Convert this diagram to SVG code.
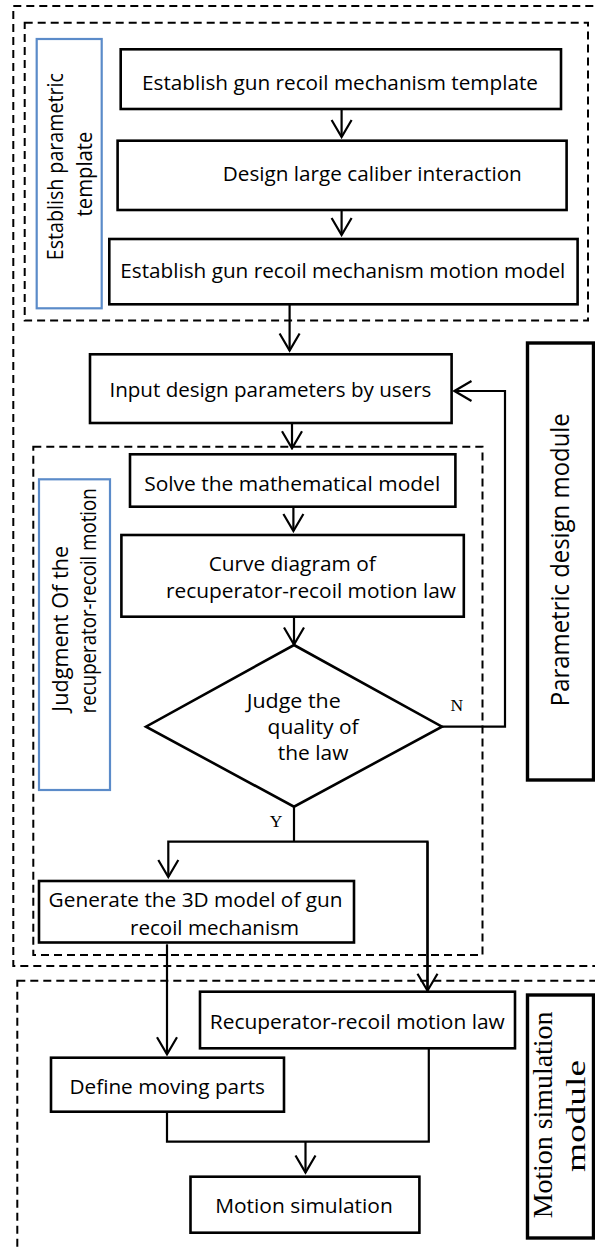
<svg xmlns="http://www.w3.org/2000/svg" width="595" height="1247" viewBox="0 0 595 1247">
  <defs>
    <style>
      .box { fill: #ffffff; stroke: #000000; stroke-width: 2.6; }
      .module { fill: #ffffff; stroke: #000000; stroke-width: 3.4; }
      .zone { fill: none; stroke: #000000; stroke-width: 2; stroke-dasharray: 8 5; }
      .tag { fill: #ffffff; stroke: #5b8bc9; stroke-width: 2.2; }
      .wire { fill: none; stroke: #000000; stroke-width: 2.2; }
      .lbl { font-family: "Open Sans", "Liberation Sans", sans-serif; font-size: 20.5px; fill: #000000; text-anchor: middle; }
      .vlbl { font-family: "Open Sans", "Liberation Sans", sans-serif; font-size: 22px; fill: #000000; text-anchor: middle; }
      .big { font-size: 25px; }
      .serif { font-family: "Liberation Serif", "Times New Roman", serif; fill: #000000; text-anchor: middle; }
      .yn { font-size: 17.5px; }
      .mod { font-size: 27.5px; }
    </style>
    <marker id="arrow" viewBox="-19 -12 21 24" markerWidth="21" markerHeight="24" refX="0" refY="0" markerUnits="userSpaceOnUse" orient="auto">
      <path d="M-17,-10 L0,0 L-17,10" fill="none" stroke="#000000" stroke-width="2.2"/>
    </marker>
  </defs>

  <rect width="595" height="1247" fill="#ffffff"/>

  <!-- dashed regions -->
  <g id="zones">
    <rect class="zone" x="13.3" y="6" width="600" height="960"/>
    <rect class="zone" x="24.7" y="22.7" width="563.3" height="297.8"/>
    <rect class="zone" x="33.3" y="446.7" width="449.2" height="508.3"/>
    <rect class="zone" x="17.3" y="980.7" width="600" height="300"/>
  </g>

  <!-- region tags -->
  <g id="tag-template">
    <rect class="tag" x="36.7" y="39" width="65" height="269.3"/>
    <text class="vlbl" transform="translate(62.7,166.7) rotate(-90)" textLength="187" lengthAdjust="spacingAndGlyphs">Establish parametric</text>
    <text class="vlbl" transform="translate(91.7,174) rotate(-90)" textLength="85" lengthAdjust="spacingAndGlyphs">template</text>
  </g>
  <g id="tag-judgment">
    <rect class="tag" x="39" y="479.3" width="71" height="310.7"/>
    <text class="vlbl" transform="translate(68.3,628.8) rotate(-90)" textLength="165.7" lengthAdjust="spacingAndGlyphs">Judgment Of the</text>
    <text class="vlbl" transform="translate(95.7,600.8) rotate(-90)" textLength="225" lengthAdjust="spacingAndGlyphs">recuperator-recoil motion</text>
  </g>
  <g id="module-parametric">
    <rect class="module" x="527.5" y="343" width="66" height="437"/>
    <text class="vlbl big" transform="translate(568.8,559.7) rotate(-90)" textLength="293" lengthAdjust="spacingAndGlyphs">Parametric design module</text>
  </g>
  <g id="module-motion">
    <rect class="module" x="527.5" y="995" width="66" height="243"/>
    <text class="serif mod" transform="translate(552.3,1115) rotate(-90)" textLength="206.7" lengthAdjust="spacingAndGlyphs">Motion simulation</text>
    <text class="serif mod" transform="translate(585,1116) rotate(-90)" textLength="112" lengthAdjust="spacingAndGlyphs">module</text>
  </g>

  <!-- connectors -->
  <g id="connectors">
    <path class="wire" d="M341.6,109 V137" marker-end="url(#arrow)"/>
    <path class="wire" d="M341.6,210 V235" marker-end="url(#arrow)"/>
    <path class="wire" d="M289.6,304.3 V350.5" marker-end="url(#arrow)"/>
    <path class="wire" d="M292,423 V448.3" marker-end="url(#arrow)"/>
    <path class="wire" d="M293.4,506.7 V531" marker-end="url(#arrow)"/>
    <path class="wire" d="M294,616.7 V644.5" marker-end="url(#arrow)"/>
    <path class="wire" d="M442,726.7 H505 V391 H454.5" marker-end="url(#arrow)"/>
    <path class="wire" d="M294,806.7 V841.7"/>
    <path class="wire" d="M427.5,990.7 V841.7 H168.3 V877" marker-end="url(#arrow)"/>
    <path class="wire" d="M427.5,841.7 V990.7" marker-end="url(#arrow)"/>
    <path class="wire" d="M167,944.3 V1054.3" marker-end="url(#arrow)"/>
    <path class="wire" d="M167,1111.7 V1141.7 H428.8 V1048.3"/>
    <path class="wire" d="M305.5,1141.7 V1172.5" marker-end="url(#arrow)"/>
    <text class="serif yn" x="456.7" y="711">N</text>
    <text class="serif yn" x="276" y="827">Y</text>
  </g>

  <!-- process nodes -->
  <g id="n-template">
    <rect class="box" x="120.7" y="49.3" width="440.3" height="59.7"/>
    <text class="lbl" x="340" y="90" textLength="396" lengthAdjust="spacingAndGlyphs">Establish gun recoil mechanism template</text>
  </g>
  <g id="n-interaction">
    <rect class="box" x="117.6" y="140.7" width="449" height="69.3"/>
    <text class="lbl" x="372.3" y="181" textLength="299" lengthAdjust="spacingAndGlyphs">Design large caliber interaction</text>
  </g>
  <g id="n-motion-model">
    <rect class="box" x="109.3" y="239" width="468.3" height="65.3"/>
    <text class="lbl" x="342.8" y="278" textLength="445" lengthAdjust="spacingAndGlyphs">Establish gun recoil mechanism motion model</text>
  </g>
  <g id="n-input">
    <rect class="box" x="90" y="354.3" width="361.6" height="68.7"/>
    <text class="lbl" x="270.4" y="396.7" textLength="322" lengthAdjust="spacingAndGlyphs">Input design parameters by users</text>
  </g>
  <g id="n-solve">
    <rect class="box" x="130" y="454.3" width="325.4" height="52.4"/>
    <text class="lbl" x="292.2" y="490.7" textLength="296" lengthAdjust="spacingAndGlyphs">Solve the mathematical model</text>
  </g>
  <g id="n-curve">
    <rect class="box" x="121.4" y="535" width="342.4" height="81.7"/>
    <text class="lbl" x="292.2" y="570.7" textLength="167" lengthAdjust="spacingAndGlyphs">Curve diagram of</text>
    <text class="lbl" x="311" y="598" textLength="290" lengthAdjust="spacingAndGlyphs">recuperator-recoil motion law</text>
  </g>
  <g id="n-judge">
    <polygon class="box" points="294,645 442,726.7 294,806.7 146,726.7"/>
    <text class="lbl" x="293.7" y="708" textLength="94" lengthAdjust="spacingAndGlyphs">Judge the</text>
    <text class="lbl" x="313.1" y="734" textLength="91" lengthAdjust="spacingAndGlyphs">quality of</text>
    <text class="lbl" x="313.1" y="760" textLength="70.6" lengthAdjust="spacingAndGlyphs">the law</text>
  </g>
  <g id="n-generate">
    <rect class="box" x="39" y="881" width="315" height="61.5"/>
    <text class="lbl" x="195.6" y="906.7" textLength="294" lengthAdjust="spacingAndGlyphs">Generate the 3D model of gun</text>
    <text class="lbl" x="214.5" y="935" textLength="169" lengthAdjust="spacingAndGlyphs">recoil mechanism</text>
  </g>
  <g id="n-law">
    <rect class="box" x="200" y="991.7" width="315" height="56.6"/>
    <text class="lbl" x="357.3" y="1029" textLength="295" lengthAdjust="spacingAndGlyphs">Recuperator-recoil motion law</text>
  </g>
  <g id="n-parts">
    <rect class="box" x="51" y="1057.7" width="233" height="54"/>
    <text class="lbl" x="167.2" y="1094" textLength="195.5" lengthAdjust="spacingAndGlyphs">Define moving parts</text>
  </g>
  <g id="n-simulation">
    <rect class="box" x="190.5" y="1176.7" width="228.9" height="56"/>
    <text class="lbl" x="304" y="1213" textLength="177.6" lengthAdjust="spacingAndGlyphs">Motion simulation</text>
  </g>
</svg>
